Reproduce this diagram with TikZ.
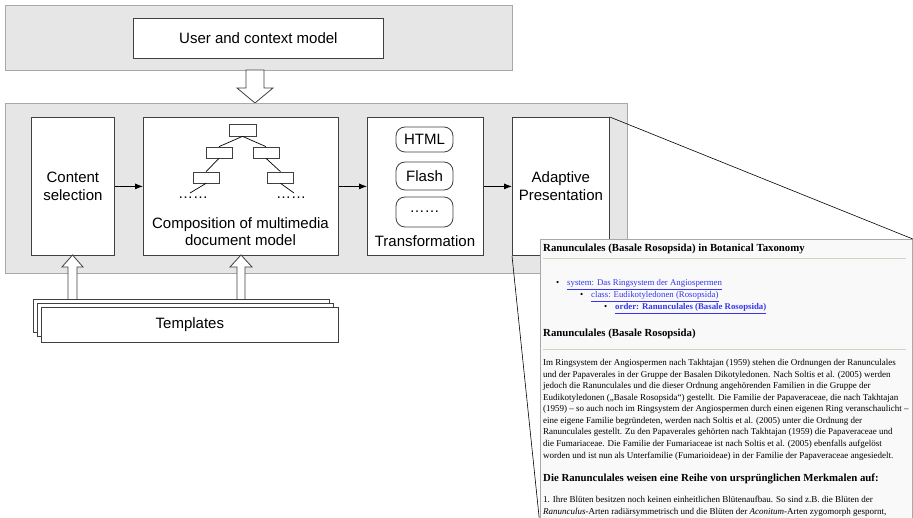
\documentclass[tikz,border=0pt]{standalone}
\usepackage{fontspec}
\setmainfont{Liberation Sans}
\newfontfamily\webfont{Liberation Serif}
\usetikzlibrary{arrows.meta,positioning}
\definecolor{panelgrey}{HTML}{E6E6E6}
\definecolor{paneledge}{HTML}{A8A8A8}
\definecolor{boxedge}{HTML}{404040}
\definecolor{linkblue}{HTML}{3535EE}
\definecolor{ruleline}{HTML}{D4D0C4}
\definecolor{pagebg}{HTML}{F9F9F9}

\begin{document}
\begin{tikzpicture}[x=1pt, y=-1pt,
  panel/.style={rectangle, draw = paneledge, fill = panelgrey,
    line width = 0.8pt, anchor = north west, inner sep = 0pt},
  stage/.style={rectangle, draw = boxedge, fill = white,
    line width = 0.8pt, anchor = north west, inner sep = 0pt,
    align = center, font = \fontsize{15}{18}\selectfont},
  leaf/.style={rectangle, draw = boxedge, fill = white,
    minimum width = 26, minimum height = 11, inner sep = 0pt,
    line width = 0.7pt},
  pill/.style={rectangle, rounded corners = 9, draw = boxedge,
    fill = white, minimum width = 57, inner sep = 0pt,
    line width = 0.8pt, font = \fontsize{15}{18}\selectfont},
  flow/.style={-{Latex[length=8pt, width=6pt]}, line width = 0.8pt},
  hollow/.style={draw = boxedge, fill = white, line width = 0.8pt},
  webline/.style={anchor = base west, inner sep = 0pt,
    font = \webfont\fontsize{9}{11}\selectfont},
  webhead/.style={anchor = base west, inner sep = 0pt,
    font = \webfont\bfseries\fontsize{10.8}{12}\selectfont},
  weblink/.style={anchor = base west, inner sep = 0pt, text = linkblue,
    font = \webfont\fontsize{8.8}{11}\selectfont},
]
\useasboundingbox (0,0) rectangle (913,518);
\clip (0,0) rectangle (913,518);

% user and context model
\node[panel, minimum width = 507, minimum height = 65] (top) at (5,5) {};
\node[stage, minimum width = 250, minimum height = 40] (user) at (133,18)
  {User and context model};

% hollow arrow down
\draw[hollow] (246,70) -- (264,70) -- (264,88) -- (273,88) -- (255,103)
  -- (237,88) -- (246,88) -- cycle;

% processing chain
\node[panel, minimum width = 622, minimum height = 170] (chain) at (5,103) {};

\node[stage, minimum width = 83, minimum height = 138] (csel) at (31,117)
  {Content\\selection};
\node[stage, minimum width = 195, minimum height = 138] (comp) at (143,117) {};
\node[stage, minimum width = 116, minimum height = 138] (trf) at (367,117) {};
\node[stage, minimum width = 97, minimum height = 138] (adapt) at (512,117)
  {Adaptive\\Presentation};

% document tree
\node[leaf, minimum width = 27, minimum height = 12] (root) at (242.5,130) {};
\node[leaf] (lone) at (219,152.5) {};
\node[leaf] (rone) at (266,152.5) {};
\node[leaf] (ltwo) at (206,177.5) {};
\node[leaf] (rtwo) at (280.5,177.5) {};
\coordinate (lend) at (190,193);
\coordinate (rend) at (294,193);
\draw[line width = 0.7pt] (root.south) -- (lone.north);
\draw[line width = 0.7pt] (root.south) -- (rone.north);
\draw[line width = 0.7pt] (lone.south) -- (ltwo.north);
\draw[line width = 0.7pt] (rone.south) -- (rtwo.north);
\draw[line width = 0.7pt] (ltwo.south) -- (lend);
\draw[line width = 0.7pt] (rtwo.south) -- (rend);
\node[font = \fontsize{15}{18}\selectfont] (ldots) at (193,198) {……};
\node[font = \fontsize{15}{18}\selectfont] (rdots) at (291,198) {……};
\node[align = center, font = \fontsize{15}{17}\selectfont] (comptext)
  at (240.5,231.5) {Composition of multimedia\\document model};

% output formats
\node[pill, minimum height = 25] (html) at (424.5,139.5) {HTML};
\node[pill, minimum height = 28] (flash) at (424.5,176) {Flash};
\node[pill, minimum height = 30] (more) at (424.5,212) {……};
\node[font = \fontsize{15}{18}\selectfont] (trftext) at (425,241)
  {Transformation};

\draw[flow] (csel) -- (comp);
\draw[flow] (comp) -- (trf);
\draw[flow] (trf) -- (adapt);

% templates
\draw[hollow] (68,299) -- (68,267) -- (62,267) -- (72.5,255) -- (83,267)
  -- (77,267) -- (77,299);
\draw[hollow] (237,299) -- (237,267) -- (230,267) -- (241,255) -- (252,267)
  -- (245,267) -- (245,299);
\node[stage, minimum width = 296, minimum height = 33] (tplc) at (33,299) {};
\node[stage, minimum width = 296, minimum height = 33] (tplb) at (37,303) {};
\node[stage, minimum width = 297, minimum height = 35] (tpla) at (41,307)
  {Templates};

% rendered page
\node[rectangle, draw = paneledge, fill = pagebg, line width = 0.8pt,
  anchor = north west, inner sep = 0pt,
  minimum width = 372, minimum height = 286] (shot) at (540,239) {};
\draw[line width = 0.6pt] (adapt.north east) -- (shot.north east);
\draw[line width = 0.6pt] (adapt.south west) -- (shot.south west);

\node[webhead] (ttl) at (543,252)
  {Ranunculales (Basale Rosopsida) in Botanical Taxonomy};
\draw[ruleline, line width = 1pt] (543,259) -- (906,259);
\node[webline] (bla) at (556,286) {•};
\node[weblink] (lka) at (567,286) {\underline{system: Das Ringsystem der Angiospermen}};
\node[webline] (blb) at (580,298) {•};
\node[weblink] (lkb) at (591,298) {\underline{class: Eudikotyledonen (Rosopsida)}};
\node[webline] (blc) at (604,310) {•};
\node[weblink, font = \webfont\bfseries\fontsize{8.8}{11}\selectfont] (lkc)
  at (615,310) {\underline{order: Ranunculales (Basale Rosopsida)}};

\node[webhead] (sub) at (543,337) {Ranunculales (Basale Rosopsida)};
\draw[ruleline, line width = 1pt] (543,350) -- (906,350);
\node[webline] at (543,366) {Im Ringsystem der Angiospermen nach Takhtajan (1959) stehen die Ordnungen der Ranunculales};
\node[webline] at (543,377.5) {und der Papaverales in der Gruppe der Basalen Dikotyledonen. Nach Soltis et al. (2005) werden};
\node[webline] at (543,389) {jedoch die Ranunculales und die dieser Ordnung angehörenden Familien in die Gruppe der};
\node[webline] at (543,400.5) {Eudikotyledonen („Basale Rosopsida“) gestellt. Die Familie der Papaveraceae, die nach Takhtajan};
\node[webline] at (543,412) {(1959) – so auch noch im Ringsystem der Angiospermen durch einen eigenen Ring veranschaulicht –};
\node[webline] at (543,423.5) {eine eigene Familie begründeten, werden nach Soltis et al. (2005) unter die Ordnung der};
\node[webline] at (543,435) {Ranunculales gestellt. Zu den Papaverales gehörten nach Takhtajan (1959) die Papaveraceae und};
\node[webline] at (543,446.5) {die Fumariaceae. Die Familie der Fumariaceae ist nach Soltis et al. (2005) ebenfalls aufgelöst};
\node[webline] at (543,458) {worden und ist nun als Unterfamilie (Fumarioideae) in der Familie der Papaveraceae angesiedelt.};

\node[webhead, font = \webfont\bfseries\fontsize{10.8}{13}\selectfont] (feat)
  at (543,481) {Die Ranunculales weisen eine Reihe von ursprünglichen Merkmalen auf:};
\node[webline] at (543,502.5) {1. Ihre Blüten besitzen noch keinen einheitlichen Blütenaufbau. So sind z.B. die Blüten der};
\node[webline] at (543,514) {\textit{Ranunculus}-Arten radiärsymmetrisch und die Blüten der \textit{Aconitum}-Arten zygomorph gespornt,};
\end{tikzpicture}
\end{document}
